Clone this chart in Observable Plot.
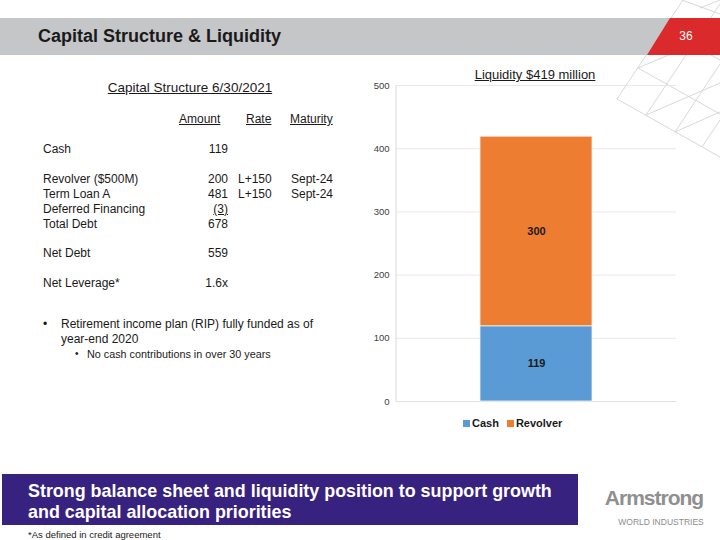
<!DOCTYPE html>
<html>
<head>
<meta charset="utf-8">
<script src="https://cdn.jsdelivr.net/npm/d3@7"></script>
<script src="https://cdn.jsdelivr.net/npm/@observablehq/plot@0.6"></script>
<style>
  html, body { margin: 0; padding: 0; background: #fff; }
  #slide { position: relative; width: 720px; height: 540px; overflow: hidden; background: #fff;
           font-family: "Liberation Sans", Arial, sans-serif; color: #1a1a1a; }
  .t { position: absolute; white-space: nowrap; }
  #chart { position: absolute; left: 356px; top: 60px; }
</style>
</head>
<body>
<div id="slide">
  <svg id="deco" width="720" height="540" style="position:absolute;left:0;top:0"></svg>
</div>
<script>
// Liquidity components ($ millions)
const categories = ["Cash", "Revolver"];
const values = [119, 300];
const colors = ["#5B9BD5", "#ED7D31"];
const yTicks = [0, 100, 200, 300, 400, 500];

// Capital structure table
const rowLabels = ["Cash", "Revolver ($500M)", "Term Loan A", "Deferred Financing", "Total Debt", "Net Debt", "Net Leverage*"];
const amounts = ["119", "200", "481", "(3)", "678", "559", "1.6x"];
const rates = ["", "L+150", "L+150", "", "", "", ""];
const maturities = ["", "Sept-24", "Sept-24", "", "", "", ""];

const slide = document.getElementById("slide");

// place a text element with its vertical centre at y
function place(text, x, y, style = {}, align = "left") {
  const el = document.createElement("div");
  el.className = "t";
  el.textContent = text;
  const fs = style.fontSize || 12;
  el.style.fontSize = fs + "px";
  el.style.lineHeight = "20px";
  el.style.height = "20px";
  el.style.top = (y - 10) + "px";
  if (align === "left") el.style.left = x + "px";
  else if (align === "right") el.style.right = (720 - x) + "px";
  else { el.style.left = x + "px"; el.style.transform = "translateX(-50%)"; }
  for (const k in style) if (k !== "fontSize") el.style[k] = style[k];
  slide.appendChild(el);
  return el;
}

const deco = d3.select("#deco");

// faint lattice decoration, top right
const lattice = [
  [617, 99, 683, 0], [646, 115, 720, 4], [675, 132, 720, 64], [702, 147, 720, 120],
  [617, 99, 720, 157], [638, 68, 720, 114], [667, 30, 720, 60],
  [646, 115, 720, 83], [638, 68, 720, 33], [675, 132, 720, 112],
  [682, 0, 720, 14], [700, 8, 720, 0]
];
deco.selectAll("line.l").data(lattice).join("line")
  .attr("x1", d => d[0]).attr("y1", d => d[1]).attr("x2", d => d[2]).attr("y2", d => d[3])
  .attr("stroke", "#d4d4d4").attr("stroke-width", 0.9);

// header band
deco.append("rect").attr("x", 0).attr("y", 18).attr("width", 672).attr("height", 37).attr("fill", "#c5c6c8");
deco.append("path").attr("d", "M670,18 L720,18 L720,55 L647,55 Z").attr("fill", "#da2a2c");

place("Capital Structure & Liquidity", 38, 36, { fontSize: 18, fontWeight: "bold", color: "#1a1a1a" });
place("36", 686, 36, { fontSize: 12, color: "#fff" }, "center");

// capital structure table
place("Capital Structure 6/30/2021", 190, 88, { fontSize: 13.5, textDecoration: "underline" }, "center");
place("Amount", 179, 119, { fontSize: 12, textDecoration: "underline" });
place("Rate", 246, 119, { fontSize: 12, textDecoration: "underline" });
place("Maturity", 290, 119, { fontSize: 12, textDecoration: "underline" });
const rowY = [149, 179, 194, 209, 224, 253, 283];
rowLabels.forEach((lab, i) => {
  place(lab, 43, rowY[i], { fontSize: 12 });
  place(amounts[i], 228, rowY[i], { fontSize: 12, textDecoration: amounts[i].startsWith("(") ? "underline" : "none" }, "right");
  if (rates[i]) place(rates[i], 238, rowY[i], { fontSize: 12 });
  if (maturities[i]) place(maturities[i], 291, rowY[i], { fontSize: 12 });
});

// bullets
place("•", 43, 324, { fontSize: 12 });
place("Retirement income plan (RIP) fully funded as of", 61, 324, { fontSize: 12 });
place("year-end 2020", 61, 339, { fontSize: 12 });
place("•", 75, 354, { fontSize: 10 });
place("No cash contributions in over 30 years", 87, 354, { fontSize: 10.8 });

// chart title
place(`Liquidity $${d3.sum(values)} million`, 535, 75, { fontSize: 13, textDecoration: "underline" }, "center");

// stacked liquidity bar
const data = categories.map((c, i) => ({ group: "Liquidity", series: c, value: values[i] }));
const chart = Plot.plot({
  width: 330,
  height: 350,
  marginLeft: 40,
  marginRight: 10,
  marginTop: 25,
  marginBottom: 9,
  style: { fontFamily: "Liberation Sans, Arial, sans-serif", fontSize: "9.5px", color: "#404040", background: "transparent", overflow: "visible" },
  x: { axis: null, paddingInner: 0, paddingOuter: 0.75 },
  y: { domain: [0, 500], label: null },
  color: { domain: categories, range: colors },
  marks: [
    Plot.gridY(yTicks, { stroke: "#e8e8e8", strokeOpacity: 1 }),
    Plot.axisY(yTicks, { tickSize: 0, tickPadding: 7, label: null, fill: "#404040" }),
    Plot.ruleY([0], { stroke: "#e0e0e0" }),
    Plot.barY(data, { x: "group", y: "value", fill: "series", stroke: "#f2f2f2", strokeWidth: 0.8 }),
    Plot.text(data, Plot.stackY({ x: "group", y: "value", text: d => String(d.value), fill: "#1a1a1a", fontWeight: "bold", fontSize: 11 }))
  ]
});
chart.id = "chart";
// vertical axis line along the left edge of the plot area
const yRange = chart.scale("y").range;
d3.select(chart).append("line")
  .attr("x1", 40).attr("x2", 40)
  .attr("y1", Math.max(...yRange)).attr("y2", Math.min(...yRange))
  .attr("stroke", "#d9d9d9");
slide.appendChild(chart);

// legend
const legend = document.createElement("div");
legend.className = "t";
legend.style.cssText = "position:absolute;left:463px;top:415px;height:16px;line-height:16px;font-size:11px;font-weight:bold;color:#1a1a1a;display:flex;align-items:center;";
categories.forEach((c, i) => {
  const sw = document.createElement("span");
  sw.style.cssText = `display:inline-block;width:7px;height:7px;background:${colors[i]};margin-right:2px;`;
  const tx = document.createElement("span");
  tx.textContent = c;
  tx.style.marginRight = "8px";
  legend.appendChild(sw);
  legend.appendChild(tx);
});
slide.appendChild(legend);

// bottom banner
const banner = document.createElement("div");
banner.style.cssText = "position:absolute;left:2px;top:474px;width:576px;height:51px;background:#38227f;";
slide.appendChild(banner);
place("Strong balance sheet and liquidity position to support growth", 28, 491, { fontSize: 17.9, fontWeight: "bold", color: "#fff" });
place("and capital allocation priorities", 28, 512, { fontSize: 17.9, fontWeight: "bold", color: "#fff" });
place("*As defined in credit agreement", 28, 535, { fontSize: 9.5 });

// logo wordmark
place("Armstrong", 654, 498, { fontSize: 21, fontWeight: "bold", color: "#8f8f8f", letterSpacing: "-1px" }, "center");
place("WORLD INDUSTRIES", 661, 522, { fontSize: 8.5, color: "#8c8c8c" }, "center");
</script>
</body>
</html>
